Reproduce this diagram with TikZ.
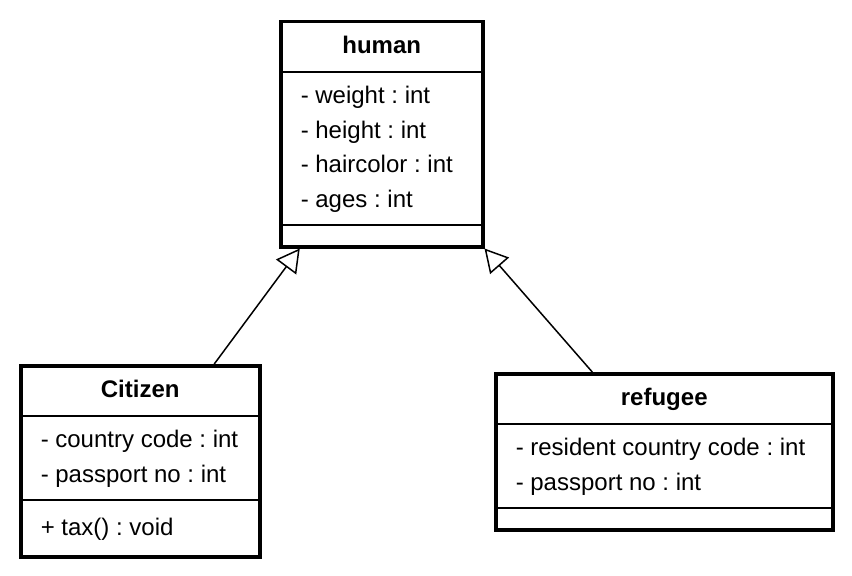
\documentclass[tikz,border=0pt]{standalone}
\usepackage{fontspec}
\setmainfont{Liberation Sans}
\usetikzlibrary{shapes.multipart,arrows.meta}
\frenchspacing

\newcommand{\umlfont}{\fontsize{24bp}{34.5bp}\selectfont}
\newcommand{\classname}[2]{\makebox[#1]{\bfseries\strut #2}}
\newcommand{\members}[2]{\begin{tabular}{@{}p{#1}@{}}#2\end{tabular}}

\begin{document}
\begin{tikzpicture}[x=1bp,y=-1bp,
  umlclass/.style={rectangle split, rectangle split parts=3, rectangle split draw splits=false,
    draw, line width=3.5bp, inner xsep=20bp, inner ysep=6bp,
    rectangle split empty part height=6bp, rectangle split empty part depth=0bp,
    anchor=north west, font=\umlfont},
  umlsplit/.style={line width=2bp},
  inherit/.style={line width=1.5bp, -{Triangle[open,length=23bp,width=25bp,line width=1.5bp]}}]
\useasboundingbox (0,0) rectangle (852,576);
% classes
\node[umlclass] (human) at (279,20) {\classname{162bp}{human}
  \nodepart{second}\members{162bp}{- weight : int\\ - height : int\\ - haircolor : int\\ - ages : int}
  \nodepart{third}};
\node[umlclass] (citizen) at (19,364) {\classname{199bp}{Citizen}
  \nodepart{second}\members{199bp}{- country code : int\\ - passport no : int}
  \nodepart{third}\members{199bp}{+ tax() : void\rule[-13.5bp]{0pt}{41bp}}};
\node[umlclass] (refugee) at (494,372) {\classname{297bp}{refugee}
  \nodepart{second}\members{297bp}{- resident country code : int\\ - passport no : int}
  \nodepart{third}};
% compartment lines
\foreach \cls in {human,citizen,refugee}{
  \draw[umlsplit] (\cls.text split west) -- (\cls.text split east);
  \draw[umlsplit] (\cls.second split west) -- (\cls.second split east);
}
% generalisation
\draw[inherit] ([xshift=74bp]citizen.north) -- ([xshift=-82bp]human.south);
\draw[inherit] ([xshift=-72bp]refugee.north) -- (human.south east);
\end{tikzpicture}
\end{document}
